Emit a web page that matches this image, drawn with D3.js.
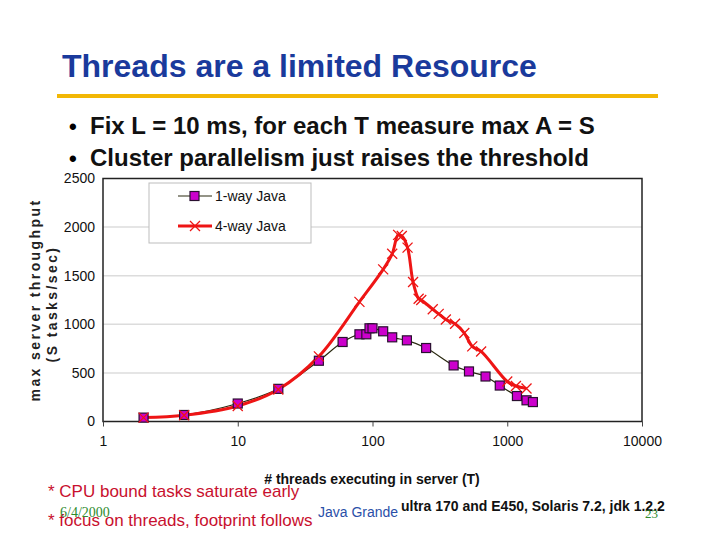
<!DOCTYPE html>
<html><head><meta charset="utf-8">
<script src="https://cdn.jsdelivr.net/npm/d3@7"></script>
<style>body{margin:0;background:#fff}svg{display:block}</style>
</head><body>
<script>
// ---- data ----
const oneWayT = [2,4,10,20,40,60,80,90,95,100,120,140,180,250,400,520,690,880,1180,1390,1550];
const oneWayS = [40,67,185,336,625,818,897,897,959,959,928,866,835,756,577,515,463,370,262,218,200];
const fourWayT = [2,4,10,20,40,80,120,140,155,165,182,200,220,230,280,310,350,410,480,550,640,1000,1160,1390];
const fourWayS = [40,65,160,330,670,1231,1565,1725,1920,1909,1789,1435,1262,1250,1155,1107,1050,1005,910,773,721,411,365,340];
const xTicks = [1,10,100,1000,10000];
const yTicks = [0,500,1000,1500,2000,2500];
const seriesNames = ["1-way Java","4-way Java"];
const bullets = ["Fix L = 10 ms, for each T measure max A = S","Cluster parallelism just raises the threshold"];
const notes = ["* CPU bound tasks saturate early","* focus on threads, footprint follows"];

const W=720,H=540;
const svg=d3.select("body").append("svg").attr("width",W).attr("height",H);
const F="'Liberation Sans', Arial, sans-serif";

// title
svg.append("text").attr("x",62).attr("y",77).attr("font-family",F).attr("font-weight","bold")
  .attr("font-size",32).attr("fill","#1a3a9c").text("Threads are a limited Resource");
svg.append("rect").attr("x",57).attr("y",94).attr("width",601).attr("height",4).attr("fill","#f2b705");
bullets.forEach((b,i)=>{
  const y=134+i*32;
  svg.append("text").attr("x",69).attr("y",y).attr("font-family",F).attr("font-weight","bold").attr("font-size",22).text("•");
  svg.append("text").attr("x",90).attr("y",y).attr("font-family",F).attr("font-weight","bold").attr("font-size",24).attr("fill","#111").text(b);
});

// chart
const L=103,R=642,T=178.5,B=421.5;
const x=d3.scaleLog().domain([1,10000]).range([L,R]);
const y=d3.scaleLinear().domain([0,2500]).range([B,T]);

// gridlines
svg.append("g").selectAll("line").data(yTicks.filter(v=>v>0&&v<2500)).join("line")
  .attr("x1",L).attr("x2",R).attr("y1",d=>y(d)).attr("y2",d=>y(d)).attr("stroke","#dcdcdc").attr("stroke-width",1.5);
svg.append("rect").attr("x",L).attr("y",T).attr("width",R-L).attr("height",B-T).attr("fill","none").attr("stroke","#222").attr("stroke-width",1.5);

const xAxis=d3.axisBottom(x).tickValues(xTicks).tickFormat(d3.format("d")).tickSize(5).tickPadding(10);
const gx=svg.append("g").attr("transform",`translate(0,${B})`).call(xAxis);
gx.select(".domain").remove();
gx.selectAll("line").attr("stroke","#444");
gx.selectAll("text").attr("font-family",F).attr("font-size",14).attr("fill","#111");
const yAxis=d3.axisLeft(y).tickValues(yTicks).tickFormat(d3.format("d")).tickSize(0).tickPadding(8);
const gy=svg.append("g").attr("transform",`translate(${L},0)`).call(yAxis);
gy.select(".domain").remove();
gy.selectAll("text").attr("font-family",F).attr("font-size",14).attr("fill","#111");

// axis titles
const yl=svg.append("text").attr("transform","translate(40,300) rotate(-90)").attr("text-anchor","middle")
  .attr("font-family",F).attr("font-weight","bold").attr("font-size",14).attr("letter-spacing",2.4).attr("fill","#222");
yl.append("tspan").attr("x",0).attr("y",0).text("max server throughput");
yl.append("tspan").attr("x",-4).attr("y",17).text("(S tasks/sec)");
svg.append("text").attr("x",372).attr("y",484).attr("text-anchor","middle").attr("font-family",F)
  .attr("font-weight","bold").attr("font-size",14).attr("fill","#111").text("# threads executing in server (T)");

// lines
const line=d3.line().x(d=>x(d[0])).y(d=>y(d[1])).curve(d3.curveCatmullRom.alpha(0.5));
const red="#ee1515";
const four=fourWayT.map((t,i)=>[t,fourWayS[i]]);
const one=oneWayT.map((t,i)=>[t,oneWayS[i]]);
svg.append("path").datum(one).attr("d",line).attr("fill","none").attr("stroke","#2a2a10").attr("stroke-width",1.2);
svg.append("path").datum(four).attr("d",line).attr("fill","none").attr("stroke",red).attr("stroke-width",3);
function cross(g,cx,cy,s){
  g.append("path").attr("d",`M${cx-s},${cy-s}L${cx+s},${cy+s}M${cx-s},${cy+s}L${cx+s},${cy-s}`)
   .attr("stroke",red).attr("stroke-width",1.3).attr("fill","none");
}
const sq=svg.append("g");
sq.selectAll("rect").data(one).join("rect").attr("x",d=>x(d[0])-4.5).attr("y",d=>y(d[1])-4.5)
  .attr("width",9).attr("height",9).attr("fill","#cc00cc").attr("stroke","#2a1030").attr("stroke-width",1.2);
const cg=svg.append("g");
four.forEach(d=>cross(cg,x(d[0]),y(d[1]),5));

// legend
const lg=svg.append("g");
lg.append("rect").attr("x",149).attr("y",183).attr("width",162).attr("height",60).attr("fill","#fff").attr("stroke","#bdbdbd").attr("stroke-width",1);
lg.append("line").attr("x1",178).attr("x2",212).attr("y1",196).attr("y2",196).attr("stroke","#2a2a10").attr("stroke-width",1.2);
lg.append("rect").attr("x",190).attr("y",191.5).attr("width",9).attr("height",9).attr("fill","#cc00cc").attr("stroke","#2a1030").attr("stroke-width",1.2);
lg.append("line").attr("x1",178).attr("x2",212).attr("y1",226).attr("y2",226).attr("stroke",red).attr("stroke-width",3);
cross(lg,195,226,5);
seriesNames.forEach((n,i)=>{
  lg.append("text").attr("x",215).attr("y",201+i*30).attr("font-family",F).attr("font-size",14).attr("fill","#111").text(n);
});

// footer
const crimson="#c8102e";
notes.forEach((n,i)=>{
  svg.append("text").attr("x",48).attr("y",497+i*29).attr("font-family",F).attr("font-size",17).attr("fill",crimson).text(n);
});
svg.append("text").attr("x",60).attr("y",517).attr("font-family","'Liberation Serif', serif").attr("font-size",14).attr("fill","#2e8b2e").text("6/4/2000");
svg.append("text").attr("x",318).attr("y",517).attr("font-family",F).attr("font-size",14).attr("fill","#2a4fa8").text("Java Grande");
svg.append("text").attr("x",401).attr("y",511).attr("font-family",F).attr("font-weight","bold").attr("font-size",14).attr("fill","#111").text("ultra 170 and E450, Solaris 7.2, jdk 1.2.2");
svg.append("text").attr("x",645).attr("y",518).attr("font-family","'Liberation Serif', serif").attr("font-size",13).attr("fill","#2e8b2e").text("23");
</script>
</body></html>
